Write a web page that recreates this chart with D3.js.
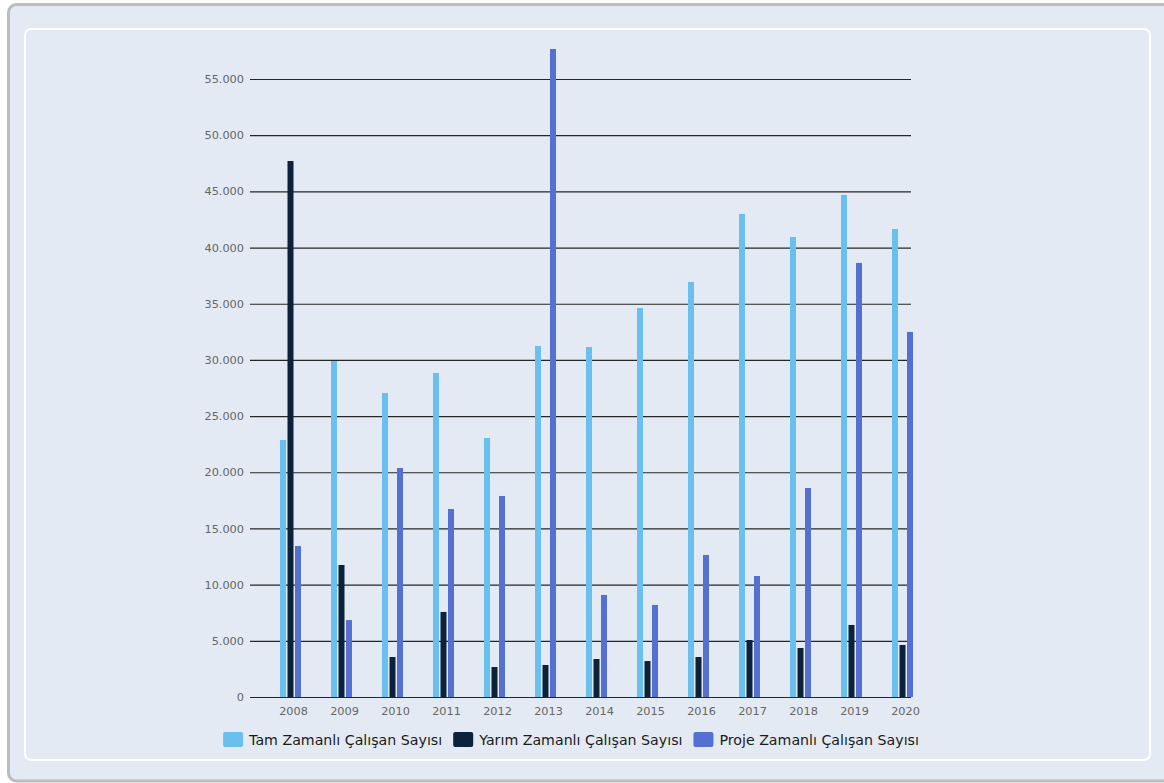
<!DOCTYPE html>
<html>
<head>
<meta charset="utf-8">
<script src="https://cdn.jsdelivr.net/npm/d3@7"></script>
<style>
  html, body { margin: 0; padding: 0; background: #ffffff; }
  svg { display: block; font-family: "DejaVu Sans", Verdana, sans-serif; }
</style>
</head>
<body>
<svg id="chart" width="1164" height="783"></svg>
<script>
// Years on the x axis
const years = ["2008","2009","2010","2011","2012","2013","2014","2015","2016","2017","2018","2019","2020"];

// Series names (legend labels)
const seriesNames = ["Tam Zamanlı Çalışan Sayısı", "Yarım Zamanlı Çalışan Sayısı", "Proje Zamanlı Çalışan Sayısı"];

// Employee counts per year
const tamZamanli   = [22870, 29900, 27050, 28840, 23050, 31240, 31150, 34620, 36940, 42990, 40940, 44680, 41650];
const yarimZamanli = [47700, 11750, 3560, 7570, 2670, 2850, 3380, 3200, 3560, 5070, 4360, 6410, 4630];
const projeZamanli = [13440, 6850, 20380, 16730, 17890, 57670, 9080, 8190, 12640, 10770, 18600, 38630, 32490];

// Y axis tick values
const yTicks = [0, 5000, 10000, 15000, 20000, 25000, 30000, 35000, 40000, 45000, 50000, 55000];

const colors = ["#69c0ee", "#0b223a", "#5470d0"];
const seriesValues = [tamZamanli, yarimZamanli, projeZamanli];

const svg = d3.select("#chart");

// Outer frame and inner panel
svg.append("rect")
  .attr("x", 8.5).attr("y", 4.5).attr("width", 1170).attr("height", 776.5)
  .attr("rx", 8).attr("ry", 8)
  .attr("fill", "#e3eaf3").attr("stroke", "#bcbcbc").attr("stroke-width", 3);
svg.append("rect")
  .attr("x", 25).attr("y", 29).attr("width", 1125).attr("height", 731)
  .attr("rx", 6).attr("ry", 6)
  .attr("fill", "#e3eaf3").attr("stroke", "#ffffff").attr("stroke-width", 2);

// Scales
const plotLeft = 250, plotRight = 911;
const y = d3.scaleLinear().domain([0, 55000]).range([697, 79]);
const x = d3.scaleBand().domain(years).range([268, 931]);
const xs = d3.scaleBand().domain(d3.range(3)).range([12, 33]).paddingInner(0.2);

const loc = d3.formatLocale({ decimal: ",", thousands: ".", grouping: [3], currency: ["", ""] });
const fmt = loc.format(",d");

// Y axis with gridlines
const yAxis = svg.append("g")
  .attr("transform", `translate(${plotLeft},0)`)
  .call(d3.axisLeft(y).tickValues(yTicks).tickFormat(fmt)
    .tickSizeInner(-(plotRight - plotLeft)).tickSizeOuter(0).tickPadding(6));
yAxis.select(".domain").remove();
yAxis.selectAll(".tick line").attr("stroke", "#262626").attr("stroke-width", 1.2);
yAxis.selectAll(".tick text")
  .attr("fill", "#666666").style("font-size", "11.3px")
  .style("font-family", "'DejaVu Sans', Verdana, sans-serif");

// Bars
const groups = svg.append("g").selectAll("g")
  .data(years)
  .join("g")
  .attr("transform", d => `translate(${x(d)},0)`);

groups.selectAll("rect")
  .data((d, i) => seriesValues.map((vals, s) => ({ s, v: vals[i] })))
  .join("rect")
  .attr("x", d => xs(d.s))
  .attr("width", xs.bandwidth())
  .attr("y", d => y(d.v))
  .attr("height", d => y(0) - y(d.v))
  .attr("fill", d => colors[d.s]);

// X axis labels
const xAxis = svg.append("g")
  .attr("transform", `translate(0,${y(0)})`)
  .call(d3.axisBottom(x).tickSize(0).tickPadding(10));
xAxis.select(".domain").remove();
xAxis.selectAll(".tick text")
  .attr("fill", "#666666").style("font-size", "11.3px")
  .style("font-family", "'DejaVu Sans', Verdana, sans-serif");

// Legend
const legend = svg.append("g");
const items = legend.selectAll("g").data(seriesNames).join("g");
items.append("rect")
  .attr("width", 20).attr("height", 15).attr("rx", 2).attr("ry", 2)
  .attr("y", 732)
  .attr("fill", (d, i) => colors[i]);
items.append("text")
  .attr("x", 26).attr("y", 745)
  .attr("fill", "#1a1a1a")
  .style("font-size", "14.2px")
  .text(d => d);

// Lay out legend items side by side, centered
const gap = 11;
const widths = [];
items.each(function() {
  widths.push(26 + this.querySelector("text").getComputedTextLength());
});
const total = d3.sum(widths) + gap * (widths.length - 1);
let start = 571 - total / 2;
items.attr("transform", (d, i) => {
  const tx = start;
  start += widths[i] + gap;
  return `translate(${tx},0)`;
});
</script>
</body>
</html>
